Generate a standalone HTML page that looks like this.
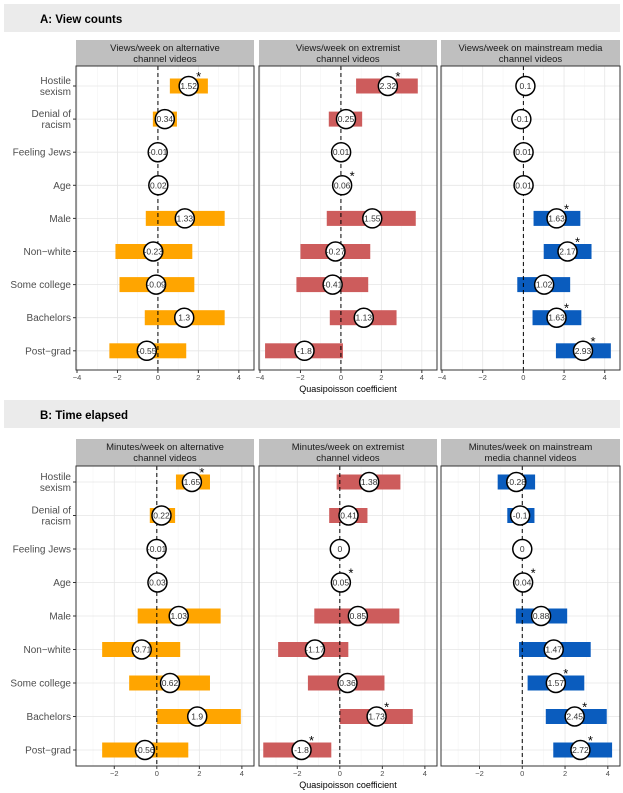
<!DOCTYPE html>
<html><head><meta charset="utf-8"><style>
body{margin:0;background:#fff;}
svg{display:block;font-family:"Liberation Sans",sans-serif;}
</style></head><body>
<svg id="chart" width="623" height="793" xmlns="http://www.w3.org/2000/svg"></svg>
<script>
const rowLabels=[["Hostile","sexism"],["Denial of","racism"],["Feeling Jews"],["Age"],["Male"],["Non\u2212white"],["Some college"],["Bachelors"],["Post\u2212grad"]];
// Section A: view counts
const aAltEst=[1.52,0.34,-0.01,0.02,1.33,-0.23,-0.09,1.3,-0.55];
const aAltLo=[0.59,-0.25,null,null,-0.6,-2.1,-1.9,-0.65,-2.4];
const aAltHi=[2.47,0.94,null,null,3.3,1.7,1.8,3.3,1.4];
const aAltSig=[1,0,0,0,0,0,0,0,0];
const aExtEst=[2.32,0.25,0.01,0.06,1.55,-0.27,-0.41,1.13,-1.8];
const aExtLo=[0.75,-0.6,null,null,-0.7,-2.0,-2.2,-0.55,-3.75];
const aExtHi=[3.8,1.05,null,null,3.7,1.45,1.35,2.75,0.1];
const aExtSig=[1,0,0,1,0,0,0,0,0];
const aMainEst=[0.1,-0.1,0.01,0.01,1.63,2.17,1.02,1.63,2.93];
const aMainLo=[null,null,null,null,0.5,1.0,-0.3,0.45,1.6];
const aMainHi=[null,null,null,null,2.8,3.35,2.3,2.85,4.3];
const aMainSig=[0,0,0,0,1,1,0,1,1];
// Section B: time elapsed
const bAltEst=[1.65,0.22,-0.01,0.03,1.03,-0.71,0.62,1.9,-0.56];
const bAltLo=[0.9,-0.33,null,null,-0.9,-2.57,-1.3,0,-2.57];
const bAltHi=[2.5,0.86,null,null,3.0,1.1,2.5,3.95,1.48];
const bAltSig=[1,0,0,0,0,0,0,0,0];
const bExtEst=[1.38,0.41,0,0.05,0.85,-1.17,0.36,1.73,-1.8];
const bExtLo=[-0.15,-0.5,null,null,-1.2,-2.9,-1.5,0,-3.6];
const bExtHi=[2.85,1.3,null,null,2.8,0.4,2.1,3.43,-0.4];
const bExtSig=[0,0,0,1,0,0,0,1,1];
const bMainEst=[-0.28,-0.1,0,0.04,0.88,1.47,1.57,2.45,2.72];
const bMainLo=[-1.15,-0.7,null,null,-0.3,-0.15,0.25,1.1,1.45];
const bMainHi=[0.6,0.57,null,null,2.1,3.2,2.9,3.95,4.2];
const bMainSig=[0,0,0,1,0,0,1,1,1];
const aTicks=[-4,-2,0,2,4];
const bTicks=[-2,0,2,4];

const NS="http://www.w3.org/2000/svg";
const svg=document.getElementById('chart');
function mk(tag,attrs,parent,text){const e=document.createElementNS(NS,tag);for(const k in attrs)e.setAttribute(k,attrs[k]);if(text!==undefined)e.textContent=text;(parent||svg).appendChild(e);return e;}
const panelsX=[[76,254],[259,437],[441,620]];
const colors=["#FFA500","#CD5C5C","#0A5CBE"];

function section(cfg){
  const hdr=mk('rect',{x:4,y:cfg.hy,width:616,height:28,fill:'#ebebeb'});
  
  
  const ht=mk('text',{x:40,y:cfg.hy+19,'font-size':11.5,'font-weight':'bold',fill:'#000'},svg,cfg.title);
  
  
  const rowY=i=>cfg.y0+i*cfg.dy;
  rowLabels.forEach((lab,i)=>{
    const y=rowY(i);
    const t=mk('text',{x:71,'text-anchor':'end','font-size':10,fill:'#4d4d4d'});
    
    
    lab.forEach((l,j)=>{mk('tspan',{x:71,y:y+3.5+(lab.length===2?(j?5.5:-5.5):0)},t,l);});
    mk('line',{x1:73,x2:76,y1:y,y2:y,stroke:'#333','stroke-width':1});
  });
  cfg.panels.forEach((p,pi)=>{
    const [L,R]=panelsX[pi];
    const sx=v=>L+(v-cfg.dmin)/(cfg.dmax-cfg.dmin)*(R-L);
    const g=mk('g',{});
    
    
    const strip=mk('rect',{x:L,y:cfg.sy,width:R-L,height:cfg.by-cfg.sy,fill:'#bfbfbf'},g);
    
    
    const st=mk('text',{'text-anchor':'middle','font-size':9.5,fill:'#1a1a1a'},g);
    
    
    mk('tspan',{x:(L+R)/2,y:cfg.sy+11},st,p.t1);
    mk('tspan',{x:(L+R)/2,y:cfg.sy+22},st,p.t2);
    mk('rect',{x:L,y:cfg.by,width:R-L,height:cfg.be-cfg.by,fill:'#fff'},g);
    for(let v=Math.ceil(cfg.dmin);v<=cfg.dmax;v++){
      mk('line',{x1:sx(v),x2:sx(v),y1:cfg.by,y2:cfg.be,stroke:v%2?'#f2f2f2':'#e6e6e6','stroke-width':v%2?0.5:0.8},g);
    }
    rowLabels.forEach((l,i)=>mk('line',{x1:L,x2:R,y1:rowY(i),y2:rowY(i),stroke:'#e6e6e6','stroke-width':0.8},g));
    p.est.forEach((e,i)=>{
      if(p.lo[i]!==null){
        const b=mk('rect',{x:sx(p.lo[i]),y:rowY(i)-7.5,width:sx(p.hi[i])-sx(p.lo[i]),height:15,fill:colors[pi]},g);
        
        
      }
    });
    mk('line',{x1:sx(0),x2:sx(0),y1:cfg.by,y2:cfg.be,stroke:'#000','stroke-width':1,'stroke-dasharray':'4,3'},g);
    p.est.forEach((e,i)=>{
      const cx=sx(e),cy=rowY(i);
      const c=mk('circle',{cx:cx,cy:cy,r:9.5,fill:'#fff',stroke:'#000','stroke-width':1.5},g);
      
      
      mk('text',{x:cx,y:cy+3,'text-anchor':'middle','font-size':8.5,fill:'#333'},g,String(e));
      if(p.sig[i]){
        const s=mk('text',{x:cx+10,y:cy-5,'text-anchor':'middle','font-size':13,fill:'#000'},g,'*');
        
        
      }
    });
    mk('rect',{x:L,y:cfg.by,width:R-L,height:cfg.be-cfg.by,fill:'none',stroke:'#333','stroke-width':1},g);
    cfg.ticks.forEach(t=>{
      mk('line',{x1:sx(t),x2:sx(t),y1:cfg.be,y2:cfg.be+3,stroke:'#333'},g);
      const tl=mk('text',{x:sx(t),y:cfg.be+10,'text-anchor':'middle','font-size':7.5,fill:'#4d4d4d'},g,t<0?'\u2212'+(-t):String(t));
      
      
    });
  });
  const at=mk('text',{x:348,y:cfg.be+22,'text-anchor':'middle','font-size':9,fill:'#000'},svg,'Quasipoisson coefficient');
  
  
}
section({key:'view-counts',title:'A: View counts',hy:4,sy:40,by:66,be:370,y0:86,dy:33.1,dmin:-4.05,dmax:4.75,ticks:aTicks,
 panels:[{t1:'Views/week on alternative',t2:'channel videos',est:aAltEst,lo:aAltLo,hi:aAltHi,sig:aAltSig},
 {t1:'Views/week on extremist',t2:'channel videos',est:aExtEst,lo:aExtLo,hi:aExtHi,sig:aExtSig},
 {t1:'Views/week on mainstream media',t2:'channel videos',est:aMainEst,lo:aMainLo,hi:aMainHi,sig:aMainSig}]});
section({key:'time-elapsed',title:'B: Time elapsed',hy:400,sy:439,by:466,be:766,y0:482,dy:33.5,dmin:-3.8,dmax:4.57,ticks:bTicks,
 panels:[{t1:'Minutes/week on alternative',t2:'channel videos',est:bAltEst,lo:bAltLo,hi:bAltHi,sig:bAltSig},
 {t1:'Minutes/week on extremist',t2:'channel videos',est:bExtEst,lo:bExtLo,hi:bExtHi,sig:bExtSig},
 {t1:'Minutes/week on mainstream',t2:'media channel videos',est:bMainEst,lo:bMainLo,hi:bMainHi,sig:bMainSig}]});
</script>
</body></html>
